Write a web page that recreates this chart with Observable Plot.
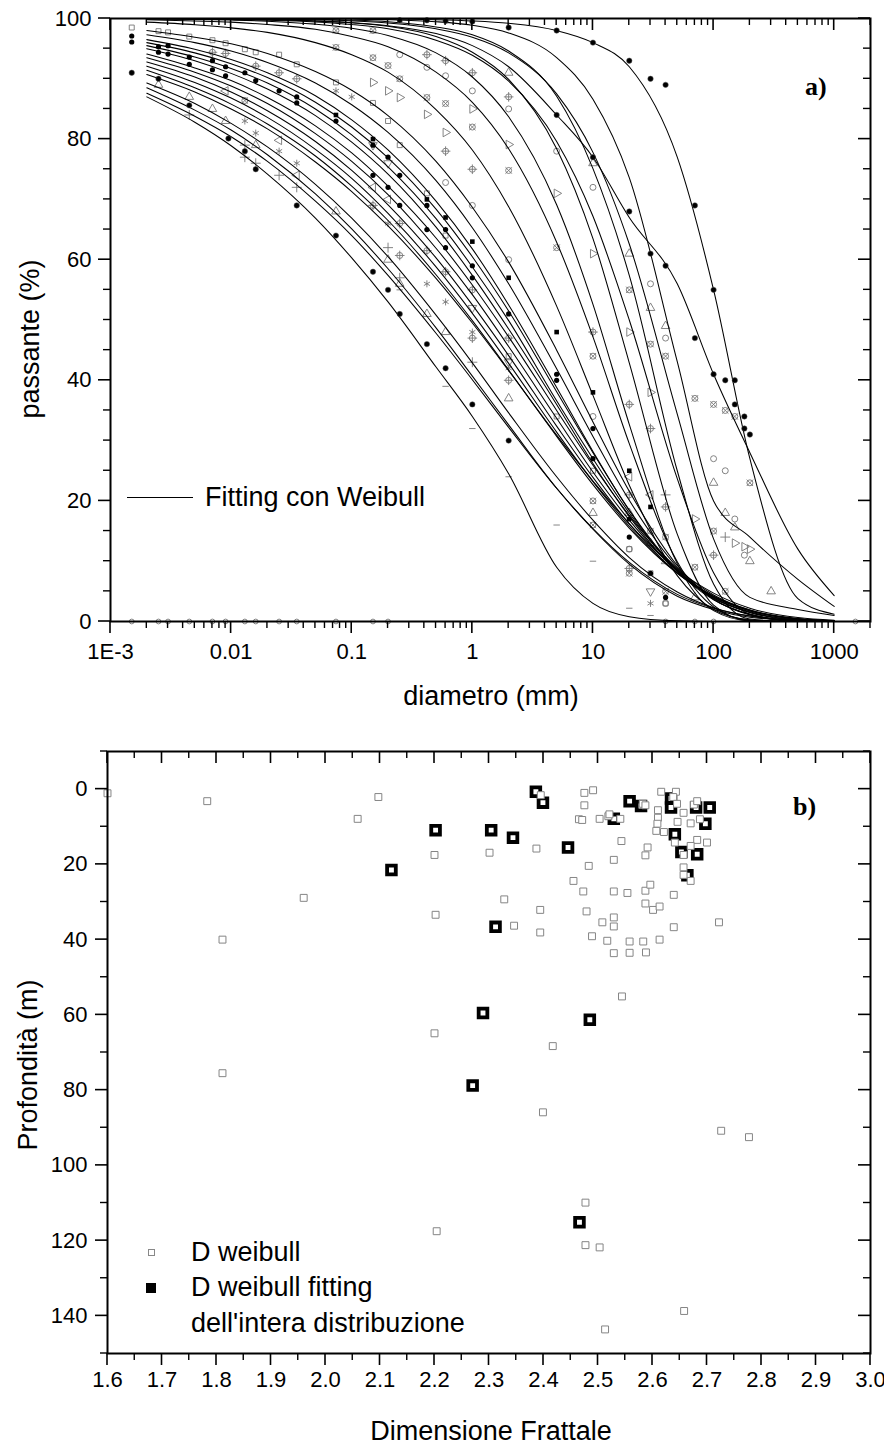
<!DOCTYPE html>
<html><head><meta charset="utf-8">
<script src="https://cdn.jsdelivr.net/npm/d3@7"></script>
<script src="https://cdn.jsdelivr.net/npm/@observablehq/plot@0.6"></script>
<style>
body{margin:0;background:#fff;}
#wrap{position:relative;width:884px;height:1448px;overflow:hidden;font-family:'Liberation Sans',Arial,sans-serif;color:#000;background:#fff}
.ov{position:absolute;white-space:nowrap;line-height:1;font-size:27px}
.panel{position:absolute;left:0;width:884px}
</style></head><body><div id="wrap">
<div id="pa" class="panel" style="top:0"></div>
<div id="pb" class="panel" style="top:720px"></div>
<div class="ov" style="left:30px;top:339px;transform:translate(-50%,-50%) rotate(-90deg)">passante (%)</div>
<div class="ov" style="left:491px;top:683px;transform:translateX(-50%)">diametro (mm)</div>
<div style="position:absolute;left:127px;top:497px;width:66px;height:1.3px;background:#000"></div>
<div class="ov" style="left:205px;top:484px">Fitting con Weibull</div>
<div class="ov" style="left:805px;top:74px;font-family:'Liberation Serif','Times New Roman',serif;font-weight:bold;font-size:26px">a)</div>
<div class="ov" style="left:28px;top:1065px;transform:translate(-50%,-50%) rotate(-90deg)">Profondità (m)</div>
<div class="ov" style="left:491px;top:1418px;transform:translateX(-50%)">Dimensione Frattale</div>
<div class="ov" style="left:793px;top:794px;font-family:'Liberation Serif','Times New Roman',serif;font-weight:bold;font-size:26px">b)</div>
<div style="position:absolute;left:147.5px;top:1248.5px;width:5px;height:5px;border:1px solid #888;background:#fff"></div>
<div class="ov" style="left:191px;top:1239px">D weibull</div>
<div style="position:absolute;left:146px;top:1283px;width:10px;height:10px;background:#000"></div>
<div class="ov" style="left:191px;top:1274px">D weibull fitting</div>
<div class="ov" style="left:191px;top:1310px">dell'intera distribuzione</div>
</div>
<script>
// ---------- Panel a: sieve grid and Weibull fitting curves (passante %) ----------
const G = [0.002,0.005,0.01,0.02,0.05,0.1,0.2,0.5,1,2,5,10,20,50,100,200,500,1000];
const fit01 = [87.0,82.8,78.9,74.2,66.9,60.3,53.0,42.2,34.0,24.5,9.0,3.0,0.8,0.1,0,0,0,0];
const fit02 = [87.6,83.8,80.4,76.3,69.7,64.0,57.4,47.8,40.1,32.2,22.1,15.4,9.8,4.5,2.2,0.9,0.2,0.05];
const fit03 = [88.5,84.8,81.5,77.4,70.9,65.1,58.5,48.7,40.7,32.6,22.1,15.3,9.5,4.2,2.0,0.7,0.15,0.03];
const fit04 = [89.3,85.9,82.6,78.7,72.5,66.9,60.5,50.8,42.9,34.6,24.0,16.8,10.6,4.9,2.3,0.9,0.2,0.04];
const fit05 = [90.7,87.8,85.0,81.7,76.2,71.3,65.6,56.9,49.5,41.6,30.9,23.3,16.2,8.6,4.7,2.2,0.65,0.2];
const fit06 = [91.4,88.5,85.8,82.5,77.2,72.2,66.5,57.5,49.9,41.7,30.7,22.7,15.5,8.0,4.2,1.9,0.5,0.1];
const fit07 = [92.1,89.4,86.8,83.6,78.3,73.5,67.7,58.8,51.1,42.8,31.4,23.2,15.8,8.0,4.1,1.8,0.4,0.1];
const fit08 = [92.8,90.3,87.8,84.7,79.6,74.8,69.1,60.3,52.5,44.1,32.4,23.9,16.2,8.1,4.1,1.8,0.4,0.08];
const fit09 = [93.5,91.1,88.8,85.9,80.9,76.3,70.8,61.9,54.2,45.6,33.7,24.8,16.8,8.4,4.2,1.8,0.4,0.07];
const fit10 = [94.1,91.8,89.7,86.9,82.2,77.7,72.2,63.6,55.8,47.2,35.0,25.9,17.6,8.8,4.4,1.9,0.4,0.07];
const fit11 = [95.0,93.0,90.9,88.3,83.9,79.5,74.2,65.4,57.4,48.5,36.0,26.2,17.4,8.3,3.9,1.5,0.3,0.05];
const fit12 = [95.5,93.6,91.7,89.3,85.0,80.7,75.4,66.8,58.8,49.9,36.6,27.0,18.0,8.5,3.9,1.6,0.25,0.04];
const fit13 = [96.0,94.3,92.5,90.2,86.1,82.0,76.9,68.4,60.5,51.5,38.1,28.0,18.5,8.6,3.9,1.5,0.2,0.03];
const fit14 = [96.5,94.9,93.2,91.0,87.2,83.2,78.2,69.7,61.8,52.5,38.8,28.2,18.4,8.3,3.6,1.2,0.15,0.02];
const fit15 = [97.3,96.0,94.6,92.7,89.3,85.7,81.1,73.1,65.3,56.0,41.9,30.7,20.1,9.0,3.7,1.2,0.13,0.01];
const fit16 = [98.0,96.9,95.8,94.2,91.2,88.1,83.9,76.3,68.7,59.6,45.0,33.1,21.6,9.3,3.7,1.1,0.1,0];
const fit17 = [99.4,98.97,98.45,97.7,96.0,94.0,91.1,84.9,78.2,68.8,52.3,37.5,22.6,7.6,2.0,0.3,0,0];
const fit18 = [99.8,99.6,99.4,99.0,98.2,97.0,95.3,91.1,86.1,78.4,62.9,47.2,29.5,9.9,2.4,0.2,0,0];
const fit19 = [99.93,99.85,99.74,99.56,99.07,98.4,97.2,94.3,90.3,83.7,69.1,52.6,32.7,9.6,1.8,0.1,0,0];
const fit20 = [99.98,99.95,99.9,99.83,99.6,99.3,98.7,97.0,94.4,89.9,78.4,63.5,42.9,14.5,2.7,0.1,0,0];
const fit21 = [99.96,99.91,99.84,99.72,99.43,99.0,98.3,96.4,93.9,89.6,79.6,67.2,50.0,23.7,8.1,1.2,0,0];
const fit22 = [100,99.99,99.97,99.94,99.86,99.72,99.45,98.6,97.3,94.6,87.1,75.1,57.4,25.0,6.2,0.4,0,0];
const fit23 = [99.99,99.97,99.95,99.91,99.79,99.6,99.26,98.3,96.9,94.3,87.5,77.8,62.6,34.4,13.7,4.0,2.0,1.0];
const fit24 = [100,100,99.99,99.98,99.96,99.91,99.81,99.47,98.87,97.6,93.5,86.6,73.6,43.1,20,14,7,2.5];
const fit25 = [100,100,99.9,99.8,99.6,99.3,98.8,97.5,95.5,92,84,77,67,56,41,28,12,4.3];
const fit26 = [100,100,100,100,100,100,99.9,99.8,99.6,99.2,98,96,92,77,55,27,3.8,1.2];

// ---------- Panel a: measured points [diametro mm, passante %] ----------
const ptSquare = [[0.0015,98.5],[0.0025,97.9],[0.003,97.7],[0.0045,97],[0.007,96.4],[0.009,95.9],[0.013,94.9],[0.016,94.4],[0.025,94],[0.035,92.4],[0.074,89.4],[0.15,86],[0.2,83],[0.25,79],[0.42,71],[0.6,64],[2,44],[5,34],[10,25],[20,12],[30,8],[40,3]];
const ptHalfLow = [[0.0015,91],[0.0025,90],[0.0045,85.6],[0.0095,80.1],[0.013,78],[0.016,75],[0.035,69],[0.074,64],[0.15,58],[0.2,55],[0.25,51],[0.42,46],[0.6,42],[1,36],[2,30]];
const ptHalfTop = [[0.25,99.7],[0.42,99.7],[0.6,99.6],[1,99.5],[2,98.5],[5,98],[10,96],[20,93],[30,90],[40,89],[70,69],[100,55],[125,40],[150,40],[150,36],[180,34],[180,32],[200,31]];
const ptHalfMid = [[5,84],[10,77],[20,68],[30,61],[40,59],[70,47],[100,41]];
const ptDisc = [[0.0015,97.1],[0.0015,96.1],[0.0025,94.4],[0.0025,95.3],[0.003,94.1],[0.003,95.5],[0.0045,93.6],[0.0045,92.4],[0.007,93],[0.007,91.5],[0.009,92],[0.009,90.5],[0.013,91],[0.016,89.7],[0.025,88],[0.035,87],[0.035,86],[0.074,83],[0.15,79],[0.2,77],[0.15,74],[0.2,72],[0.25,74],[0.25,69],[0.42,69],[0.42,65],[0.6,65],[0.6,62],[1,59],[1,57],[2,51],[5,41],[5,40],[10,32],[10,27],[20,17],[20,14],[30,8],[40,4]];
const ptSolidSquare = [[0.074,84],[0.15,80],[0.42,70],[0.6,67],[1,63],[2,57],[5,48],[10,38],[20,25],[30,19]];
const ptCircle = [[0.25,94],[0.42,91.9],[0.6,90.5],[1,88],[2,85],[5,78],[10,72],[30,56],[40,47],[100,27],[125,25],[150,17],[180,11],[0.6,72.8],[1,69],[2,60],[10,34],[20,12],[40,3]];
const ptTriangle = [[0.0025,89],[0.0045,87],[0.007,85],[0.009,83],[0.016,79],[0.074,68],[0.2,60],[0.25,56],[0.42,51],[0.6,48],[2,91],[2,37],[10,76],[10,18],[20,61],[20,18],[30,52],[30,13],[40,49],[40,10],[70,4],[100,23],[125,18],[150,15.6],[200,10],[300,5]];
const ptCrossCircle = [[0.013,86.4],[0.074,98],[0.074,95.2],[0.15,98],[0.15,93.5],[0.2,92.2],[0.25,90],[0.42,86.9],[0.6,85.9],[1,82],[2,74.8],[5,62],[10,44],[10,20],[10,16],[20,55],[20,8],[30,46],[30,15],[40,44],[40,14],[40,5],[70,37],[70,9],[100,36],[100,15],[125,35],[125,5],[150,34],[200,23]];
const ptRightTri = [[0.15,89.4],[0.2,88],[0.25,86.9],[0.42,84.1],[0.6,81.1],[1,85],[2,79.1],[5,71],[10,61],[20,48],[30,38],[70,17],[150,13],[180,12.4],[200,12]];
const ptLeftTri = [[0.009,88],[0.025,79.8],[0.035,74],[0.15,72],[0.2,70],[20,24],[30,21]];
const ptPlusCircle = [[0.007,94.4],[0.009,94.2],[0.016,92.1],[0.025,91],[0.035,90],[0.15,69],[0.25,66],[0.25,60.7],[0.42,94],[0.42,61.5],[0.6,93],[0.6,78],[0.6,58],[1,91],[1,75],[1,55],[1,47],[2,87],[2,47],[2,40],[10,48],[20,36],[20,21],[20,8.8],[30,32],[40,19],[100,11]];
const ptStar = [[0.013,83],[0.016,81],[0.025,78],[0.035,76],[0.074,88],[0.1,87],[0.2,66],[0.42,56],[0.6,53],[1,48],[2,42],[30,3]];
const ptPlus = [[0.0045,84],[0.013,79],[0.013,77],[0.016,76],[0.025,74],[0.035,72],[0.2,62],[0.25,57],[1,43],[40,21],[125,14]];
const ptDownTri = [[0.15,79],[0.2,76],[1,52],[2,43],[30,5]];
const ptDash = [[0.25,55],[0.6,39],[1,32],[2,24],[5,16],[10,10],[20,2.2],[30,1]];
const ptZero = [[0.0015,0],[0.0025,0],[0.003,0],[0.0045,0],[0.007,0],[0.009,0],[0.013,0],[0.016,0],[0.025,0],[0.035,0],[0.074,0],[0.15,0],[0.2,0],[40,0],[70,0],[100,0],[1500,0]];

// ---------- Panel a: axis ticks ----------
const xMajorA = [0.001,0.01,0.1,1,10,100,1000];
const xLabelsA = ["1E-3","0.01","0.1","1","10","100","1000"];
const yMajorA = [0,20,40,60,80,100];
const yMinorA = [5,10,15,25,30,35,45,50,55,65,70,75,85,90,95];

// ---------- Panel b: [Dimensione Frattale, Profondità m] ----------
const dWeibull = [[1.6,1.1],[1.783,3.2],[2.097,2.1],[2.059,7.9],[2.200,17.5],[1.960,28.9],[1.811,40],[2.202,33.4],[2.200,64.9],[1.811,75.5],
[2.475,1.0],[2.491,0.3],[2.475,4.3],[2.465,8.0],[2.471,8.2],[2.503,7.9],[2.519,7.2],[2.541,7.9],[2.582,3.9],[2.587,4.3],
[2.616,0.7],[2.643,0.7],[2.638,2.1],[2.645,3.9],[2.610,5.6],[2.610,7.6],[2.609,9.2],[2.607,11.1],[2.621,11.4],[2.657,6.3],
[2.646,8.7],[2.670,9.1],[2.676,4.1],[2.682,3.2],[2.687,8.0],[2.682,13.5],[2.700,14.2],[2.670,15.1],[2.641,14.2],[2.657,17.5],
[2.657,20.8],[2.657,22.8],[2.670,24.4],[2.543,13.8],[2.591,15.5],[2.587,17.6],[2.529,18.8],[2.483,20.4],[2.455,24.4],[2.473,27.2],
[2.529,27.2],[2.554,27.6],[2.587,27.0],[2.596,25.4],[2.639,28.1],[2.587,30.4],[2.601,32.1],[2.613,31.2],[2.479,32.5],[2.529,34.1],
[2.529,36.5],[2.508,35.4],[2.639,36.7],[2.722,35.4],[2.489,39.1],[2.517,40.3],[2.558,40.5],[2.583,40.5],[2.613,40.0],[2.529,43.6],
[2.558,43.5],[2.588,43.4],[2.544,55.1],[2.417,68.3],[2.387,15.8],[2.394,32.1],[2.394,38.1],[2.346,36.3],[2.328,29.3],[2.301,16.9],
[2.395,1.6],[2.521,6.7],[2.399,85.9],[2.726,90.8],[2.777,92.5],[2.477,109.9],[2.204,117.5],[2.477,121.2],[2.503,121.8],[2.658,138.7],[2.513,143.6]];
const dWeibullFit = [[2.121,21.5],[2.202,10.9],[2.386,0.7],[2.399,3.6],[2.304,10.9],[2.344,12.9],[2.445,15.5],[2.312,36.6],[2.289,59.5],[2.485,61.3],
[2.270,78.8],[2.529,7.9],[2.558,3.2],[2.579,4.5],[2.634,2.5],[2.634,4.9],[2.641,12.0],[2.680,4.9],[2.705,4.9],[2.697,9.2],
[2.653,16.7],[2.682,17.3],[2.664,22.9],[2.466,115.1]];
const xMajorB = [1.6,1.7,1.8,1.9,2.0,2.1,2.2,2.3,2.4,2.5,2.6,2.7,2.8,2.9,3.0];
const xMinorB = [1.65,1.75,1.85,1.95,2.05,2.15,2.25,2.35,2.45,2.55,2.65,2.75,2.85,2.95];
const yMajorB = [0,20,40,60,80,100,120,140];
const yMinorB = [-10,10,30,50,70,90,110,130,150];

// ---------- build ----------
const fits = [fit01,fit02,fit03,fit04,fit05,fit06,fit07,fit08,fit09,fit10,fit11,fit12,fit13,fit14,fit15,fit16,fit17,fit18,fit19,fit20,fit21,fit22,fit23,fit24,fit25,fit26];
const lineData = fits.flatMap((vals, i) => vals.map((p, j) => ({id: i, d: G[j], p})));
const xMinorA = [];
for (let k = -3; k <= 3; k++) for (let m = 2; m <= 9; m++) { const v = +(m * Math.pow(10, k)).toPrecision(3); if (v <= 2000) xMinorA.push(v); }

const dashSymbol = {draw(ctx, size) { const r = Math.sqrt(size / Math.PI); ctx.moveTo(-r, 0); ctx.lineTo(r, 0); }};
const GRAY = "#767676";
const XY = {x: d => d[0], y: d => d[1]};
const gdot = (data, symbol, extra = {}) => Plot.dot(data, {...XY, symbol, r: 3, stroke: GRAY, strokeWidth: 0.9, fill: "none", ...extra});
const font = {fontFamily: "'Liberation Sans', Arial, sans-serif", fontSize: "22px", color: "black", background: "white", overflow: "visible"};

// Draws box ticks (outer on bottom/left, inner on top/right) through the chart's own scales
function boxTicks(chart, xs, ys, len) {
  const sx = chart.scale("x"), sy = chart.scale("y");
  const [x0, x1] = sx.range, [y0, y1] = sy.range; // x0 left, x1 right, y0 bottom, y1 top (or reversed)
  const left = Math.min(x0, x1), right = Math.max(x0, x1);
  const top = Math.min(y0, y1), bottom = Math.max(y0, y1);
  const g = d3.select(chart).append("g").attr("stroke", "black").attr("stroke-width", len > 9 ? 1.6 : 1.4).attr("fill", "none");
  for (const v of xs) {
    const px = sx.apply(v);
    g.append("line").attr("x1", px).attr("x2", px).attr("y1", bottom).attr("y2", bottom + len);
    g.append("line").attr("x1", px).attr("x2", px).attr("y1", top).attr("y2", top + len);
  }
  for (const v of ys) {
    const py = sy.apply(v);
    g.append("line").attr("y1", py).attr("y2", py).attr("x1", left).attr("x2", left - len);
    g.append("line").attr("y1", py).attr("y2", py).attr("x1", right).attr("x2", right - len);
  }
}

const chartA = Plot.plot({
  width: 884, height: 720,
  marginLeft: 110, marginRight: 14, marginTop: 18, marginBottom: 99,
  x: {type: "log", domain: [0.001, 2000]},
  y: {domain: [0, 100]},
  style: font,
  marks: [
    gdot(ptSquare, "square", {r: 2.8}),
    gdot(ptCircle, "circle"),
    gdot(ptTriangle, "triangle", {r: 3.2}),
    gdot(ptCrossCircle, "circle"),
    gdot(ptCrossCircle, "times", {r: 3}),
    gdot(ptRightTri, "triangle", {r: 3.2, rotate: 90}),
    gdot(ptLeftTri, "triangle", {r: 3.2, rotate: -90}),
    gdot(ptDownTri, "triangle", {r: 3.2, rotate: 180}),
    gdot(ptPlusCircle, "circle"),
    gdot(ptPlusCircle, "plus", {r: 3.2}),
    gdot(ptStar, "asterisk", {r: 3.3}),
    gdot(ptPlus, "plus", {r: 3.3}),
    gdot(ptDash, dashSymbol, {r: 3.2}),
    gdot(ptZero, "circle", {r: 2.4, fill: "white"}),
    Plot.line(lineData, {x: "d", y: "p", z: "id", stroke: "black", strokeWidth: 1.05, curve: "monotone-x"}),
    Plot.dot(ptHalfLow, {...XY, r: 2.7, fill: "black", stroke: "#555", strokeWidth: 0.5}),
    Plot.dot(ptHalfTop, {...XY, r: 2.7, fill: "black", stroke: "#555", strokeWidth: 0.5}),
    Plot.dot(ptHalfMid, {...XY, r: 2.7, fill: "black", stroke: "#555", strokeWidth: 0.5}),
    Plot.dot(ptDisc, {...XY, r: 2.6, fill: "black"}),
    Plot.dot(ptSolidSquare, {...XY, symbol: "square", r: 2.6, fill: "black"}),
    Plot.axisX(xMajorA, {tickSize: 0, tickPadding: 22, tickFormat: d => xLabelsA[xMajorA.indexOf(d)], label: null}),
    Plot.axisY(yMajorA, {tickSize: 0, tickPadding: 19, label: null}),
    Plot.frame({stroke: "black", strokeWidth: 2})
  ]
});
document.getElementById("pa").appendChild(chartA);
boxTicks(chartA, xMajorA, yMajorA, 12);
boxTicks(chartA, xMinorA, yMinorA, 7);

const chartB = Plot.plot({
  width: 884, height: 728,
  marginLeft: 107, marginRight: 14, marginTop: 31, marginBottom: 95,
  x: {domain: [1.6, 3.0]},
  y: {domain: [-10, 150], reverse: true},
  style: font,
  marks: [
    Plot.dot(dWeibullFit, {...XY, symbol: "square", r: 4.9, stroke: "black", strokeWidth: 3.8, fill: "white"}),
    Plot.dot(dWeibull, {...XY, symbol: "square", r: 3.9, stroke: "#858585", strokeWidth: 1, fill: "white"}),
    Plot.axisX(xMajorB, {tickSize: 0, tickPadding: 18, tickFormat: d3.format(".1f"), label: null}),
    Plot.axisY(yMajorB, {tickSize: 0, tickPadding: 20, label: null}),
    Plot.frame({stroke: "black", strokeWidth: 2})
  ]
});
document.getElementById("pb").appendChild(chartB);
boxTicks(chartB, xMajorB, yMajorB, 12);
boxTicks(chartB, xMinorB, yMinorB, 7);
</script>
</body></html>
